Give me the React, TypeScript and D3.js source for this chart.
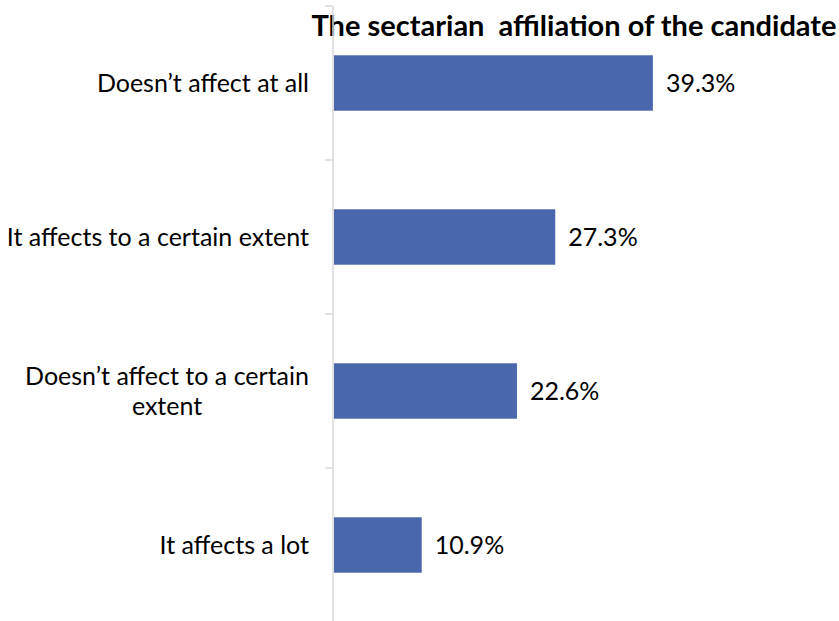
import { useEffect, useRef } from "react";
import { scaleLinear, scaleBand, select } from "d3";

const categories = [
  "Doesn’t affect at all",
  "It affects to a certain extent",
  "Doesn’t affect to a certain extent",
  "It affects a lot",
];
const labelLines = [
  ["Doesn’t affect at all"],
  ["It affects to a certain extent"],
  ["Doesn’t affect to a certain", "extent"],
  ["It affects a lot"],
];
const values = [39.3, 27.3, 22.6, 10.9];
const title = "The sectarian  affiliation of the candidate";

const WIDTH = 839;
const HEIGHT = 621;
const AXIS_X = 333;
const FONT = "Lato, 'Open Sans', sans-serif";

export default function App() {
  const labelsRef = useRef<SVGGElement>(null);

  const x = scaleLinear().domain([0, 45]).range([AXIS_X, AXIS_X + 45 * 8.14]);
  const y = scaleBand<string>().domain(categories).range([6, 622]).paddingInner(0.64).paddingOuter(0.32);
  const band = scaleBand<string>().domain(categories).range([6, 622]);

  // category labels: lines centred on each other, block right-aligned
  useEffect(() => {
    if (!labelsRef.current) return;
    const g = select(labelsRef.current);
    g.selectAll("*").remove();
    const right = 309;
    categories.forEach((c, i) => {
      const lines = labelLines[i];
      const cy = (y(c) ?? 0) + y.bandwidth() / 2;
      const t = g
        .append("text")
        .attr("font-family", FONT)
        .attr("font-size", 25)
        .attr("fill", "#000")
        .attr("text-anchor", "middle");
      const lh = 30;
      const y0 = cy - ((lines.length - 1) * lh) / 2;
      const spans = lines.map((l, j) =>
        t.append("tspan").attr("y", y0 + j * lh).attr("dy", "0.35em").text(l)
      );
      const w = Math.max(...spans.map((s) => (s.node() as SVGTSpanElement).getComputedTextLength()));
      spans.forEach((s) => s.attr("x", right - w / 2));
    });
  }, []);

  return (
    <svg width={WIDTH} height={HEIGHT} style={{ position: "absolute", left: 0, top: 0 }}>
      <rect width={WIDTH} height={HEIGHT} fill="#fff" />
      <text
        x={574}
        y={36}
        textAnchor="middle"
        fontFamily={FONT}
        fontWeight="bold"
        fontSize={29}
        fill="#000"
        style={{ whiteSpace: "pre" }}
      >
        {title}
      </text>
      {/* axis line and ticks */}
      <line x1={AXIS_X} x2={AXIS_X} y1={6} y2={622} stroke="#d9d9d9" strokeWidth={1.5} />
      {categories.map((c) => (
        <line key={"t" + c} x1={AXIS_X - 8} x2={AXIS_X} y1={band(c)} y2={band(c)} stroke="#d9d9d9" strokeWidth={1.5} />
      ))}
      {categories.map((c, i) => (
        <g key={c}>
          <rect x={x(0) + 1} y={y(c)} width={x(values[i]) - x(0) - 1} height={y.bandwidth()} fill="#4A66AC" />
          <text
            x={x(values[i]) + 13}
            y={(y(c) ?? 0) + y.bandwidth() / 2}
            dy="0.35em"
            fontFamily={FONT}
            fontSize={25}
            fill="#000"
          >
            {values[i].toFixed(1)}%
          </text>
        </g>
      ))}
      <g ref={labelsRef} />
    </svg>
  );
}
